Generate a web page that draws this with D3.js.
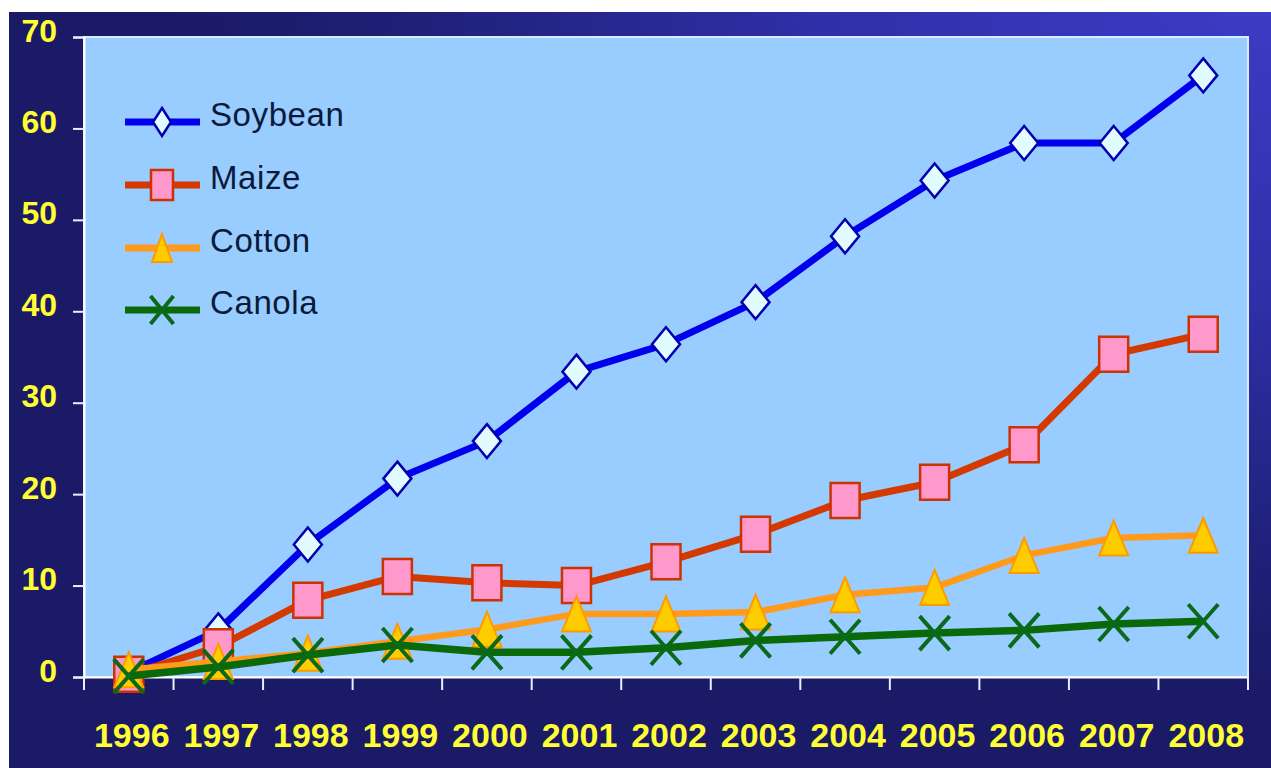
<!DOCTYPE html>
<html><head><meta charset="utf-8">
<script src="https://cdn.jsdelivr.net/npm/d3@7"></script>
<style>html,body{margin:0;padding:0;background:#fff;}svg{display:block;}</style>
</head><body>
<script>
const years = ["1996","1997","1998","1999","2000","2001","2002","2003","2004","2005","2006","2007","2008"];
const soybean = [0.5, 5.1, 14.5, 21.7, 25.8, 33.4, 36.4, 41.0, 48.2, 54.3, 58.4, 58.4, 65.8];
const maize   = [0.3, 3.3, 8.4, 11.0, 10.3, 10.0, 12.6, 15.6, 19.3, 21.3, 25.4, 35.3, 37.5];
const cotton  = [0.8, 1.7, 2.6, 3.9, 5.2, 6.9, 6.9, 7.1, 9.0, 9.8, 13.3, 15.2, 15.5];
const canola  = [0.1, 1.1, 2.4, 3.5, 2.7, 2.7, 3.2, 4.0, 4.4, 4.8, 5.1, 5.8, 6.1];
const seriesNames = ["Soybean","Maize","Cotton","Canola"];
const yTicks = [0,10,20,30,40,50,60,70];

const W = 1271, H = 768;
const svg = d3.select("body").append("svg").attr("width", W).attr("height", H);
const defs = svg.append("defs");
const rg = defs.append("radialGradient").attr("id","bg").attr("gradientUnits","userSpaceOnUse")
  .attr("cx",1271).attr("cy",0).attr("r",1100).attr("gradientTransform","translate(1271,0) scale(1,0.65) translate(-1271,0)");
rg.append("stop").attr("offset","0").attr("stop-color","#3c3cc6");
rg.append("stop").attr("offset","0.4").attr("stop-color","#3030aa");
rg.append("stop").attr("offset","0.8").attr("stop-color","#1f1f76");
rg.append("stop").attr("offset","1").attr("stop-color","#1a1a66");

svg.append("rect").attr("x",9).attr("y",12).attr("width",W-9).attr("height",H-12).attr("fill","url(#bg)");

const x = d3.scaleBand().domain(years).range([84,1248]);
const y = d3.scaleLinear().domain([0,70]).range([677,37]);

// plot area
svg.append("rect").attr("x",84).attr("y",37).attr("width",1248-84).attr("height",677-37)
  .attr("fill","#99ccff").attr("stroke","#d8ecff").attr("stroke-width",2);

// y axis
const yAx = svg.append("g").attr("transform","translate(84,0)")
  .call(d3.axisLeft(y).tickValues(yTicks).tickSize(11).tickPadding(16).tickFormat(d3.format("d")));
yAx.select(".domain").attr("stroke","#ffffff").attr("stroke-width",2);
yAx.selectAll(".tick line").attr("stroke","#e8f0ff").attr("stroke-width",2);
yAx.selectAll(".tick text").attr("fill","#ffff33").attr("font-family","Liberation Sans, Arial, sans-serif")
  .attr("font-weight","bold").attr("font-size",32).attr("dy",4);

// x axis
const xAx = svg.append("g").attr("transform","translate(0,677)")
  .call(d3.axisBottom(x).tickSize(0).tickPadding(0));
xAx.select(".domain").attr("stroke","#ffffff").attr("stroke-width",2);
xAx.selectAll(".tick text").attr("fill","#ffff33").attr("font-family","Liberation Sans, Arial, sans-serif")
  .attr("font-weight","bold").attr("font-size",34).attr("y",46).attr("dy","0.71em").attr("dx",3);
const bounds = years.map(d => x(d)).concat([x.range()[1]]);
xAx.selectAll("line.bnd").data(bounds).join("line").attr("class","bnd")
  .attr("x1",d=>d).attr("x2",d=>d).attr("y1",0).attr("y2",13)
  .attr("stroke","#e8f0ff").attr("stroke-width",2);

const cx = d => x(d) + x.bandwidth()/2;

function diamond(w,h){return `M0,${-h/2}L${w/2},0L0,${h/2}L${-w/2},0Z`;}
function square(w,h){return `M${-w/2},${-h/2}H${w/2}V${h/2}H${-w/2}Z`;}
function triangle(w,h){return `M0,${-h/2}L${w/2},${h/2}L${-w/2},${h/2}Z`;}
function cross(w,h){return `M${-w/2},${-h/2}L${w/2},${h/2}M${w/2},${-h/2}L${-w/2},${h/2}`;}

const series = [
  {name:seriesNames[0], values:soybean, line:"#0000ee", lw:7, shape:diamond, w:28, h:34, lw2:18, lh2:28, fill:"#e2fbff", stroke:"#0000b0", sw:2.5},
  {name:seriesNames[1], values:maize, line:"#d43a00", lw:7, shape:square, w:29, h:35, lw2:22, lh2:30, fill:"#ff99cc", stroke:"#cc3300", sw:2.5},
  {name:seriesNames[2], values:cotton, line:"#ff9a1a", lw:6.5, shape:triangle, w:29, h:35, lw2:20, lh2:28, fill:"#ffcc00", stroke:"#ff9900", sw:2},
  {name:seriesNames[3], values:canola, line:"#0a6a0a", lw:7.5, shape:cross, w:30, h:34, lw2:23, lh2:28, fill:"none", stroke:"#0a6a1a", sw:4}
];

const line = d3.line().x((v,i)=>cx(years[i])).y(v=>y(v));
series.forEach(s => {
  const g = svg.append("g");
  g.append("path").attr("d", line(s.values)).attr("fill","none").attr("stroke",s.line)
    .attr("stroke-width",s.lw).attr("stroke-linejoin","round");
  g.selectAll("path.m").data(s.values).join("path").attr("class","m")
    .attr("transform",(v,i)=>`translate(${cx(years[i])},${y(v)})`)
    .attr("d", s.shape(s.w,s.h)).attr("fill",s.fill).attr("stroke",s.stroke).attr("stroke-width",s.sw);
});

// legend
const lg = svg.append("g");
const legY = [122,185,248,310];
series.forEach((s,i) => {
  const g = lg.append("g").attr("transform",`translate(0,${legY[i]})`);
  g.append("line").attr("x1",125).attr("x2",200).attr("y1",0).attr("y2",0)
    .attr("stroke",s.line).attr("stroke-width",7);
  g.append("path").attr("transform","translate(162,0)").attr("d",s.shape(s.lw2,s.lh2))
    .attr("fill",s.fill).attr("stroke",s.stroke).attr("stroke-width",s.sw);
  g.append("text").attr("x",210).attr("y",4).text(s.name)
    .attr("font-family","Liberation Sans, Arial, sans-serif").attr("font-size",33)
    .attr("letter-spacing",0.6).attr("fill","#0a1a3a");
});
</script>
</body></html>
